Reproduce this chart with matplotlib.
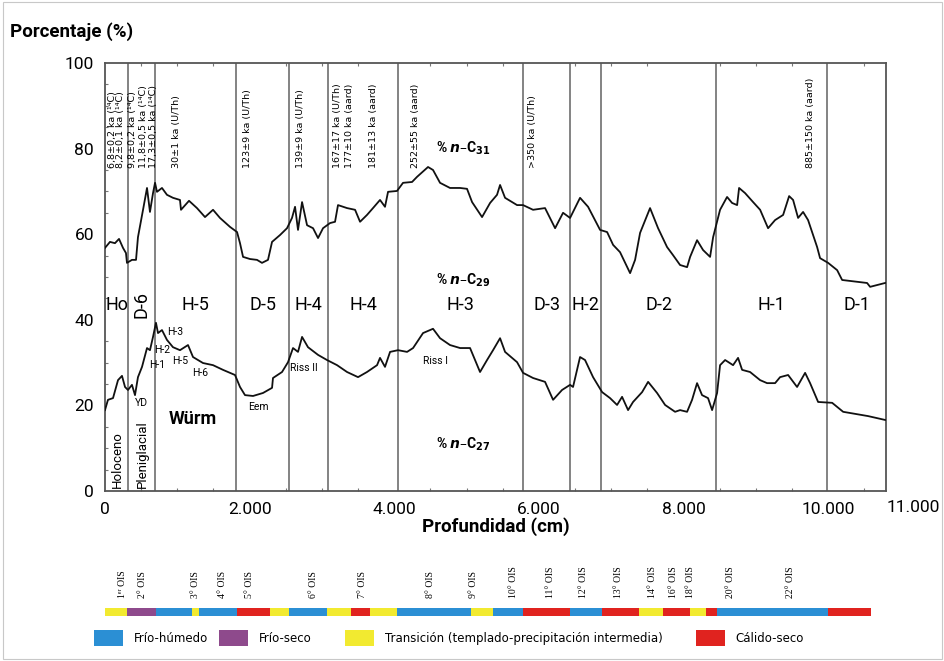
import matplotlib
matplotlib.use("Agg")
import matplotlib.pyplot as plt
from matplotlib.patches import Rectangle
import matplotlib.transforms as mtransforms

plt.rcParams['font.family'] = ['Roboto', 'DejaVu Sans']

# upper curve (% n-C31)
c31_depth = [0, 69, 138, 194, 249, 290, 304, 373, 429, 456, 526, 581, 622, 664, 692, 719,
             788, 857, 940, 1037, 1051, 1162, 1272, 1383, 1494, 1590, 1729, 1826, 1867, 1909,
             2005, 2102, 2171, 2254, 2310, 2420, 2517, 2586, 2628, 2669, 2725, 2794, 2877,
             2946, 3015, 3112, 3181, 3222, 3347, 3458, 3527, 3623, 3706, 3803, 3872, 3914,
             4038, 4121, 4246, 4315, 4467, 4536, 4633, 4771, 4910, 5006, 5076, 5214, 5325,
             5421, 5463, 5532, 5698, 5781, 5919, 6085, 6224, 6334, 6431, 6569, 6680, 6846,
             6943, 7026, 7122, 7261, 7330, 7399, 7537, 7648, 7772, 7855, 7952, 8049, 8091,
             8187, 8270, 8367, 8409, 8505, 8602, 8671, 8741, 8768, 8851, 8962, 9059, 9169,
             9266, 9377, 9460, 9515, 9584, 9653, 9722, 9847, 9888, 9999, 10124, 10193,
             10538, 10580, 10787]
c31_pct = [56.8, 58.2, 57.9, 58.9, 56.8, 55.6, 53.3, 54.0, 54.0, 59.3, 65.7, 70.8, 65.2, 69.6,
           72.0, 69.9, 70.8, 69.2, 68.5, 68.0, 65.7, 67.8, 66.1, 64.0, 65.7, 63.8, 61.7, 60.5,
           57.9, 54.7, 54.2, 54.0, 53.3, 54.0, 58.2, 59.8, 61.4, 63.8, 66.4, 61.0, 67.5, 62.1,
           61.4, 59.1, 61.4, 62.6, 62.9, 66.8, 66.1, 65.7, 62.9, 64.5, 66.1, 68.0, 66.4, 69.9,
           70.1, 72.0, 72.2, 73.4, 75.7, 75.0, 72.0, 70.8, 70.8, 70.6, 67.5, 64.0, 67.3, 69.2,
           71.5, 68.5, 66.8, 66.8, 65.7, 66.1, 61.4, 65.0, 63.8, 68.5, 66.4, 61.0, 60.5, 57.5,
           55.8, 50.9, 54.0, 60.3, 66.1, 61.4, 57.0, 55.1, 52.8, 52.3, 54.7, 58.6, 56.3, 54.7,
           59.3, 65.7, 68.7, 67.3, 66.8, 70.8, 69.6, 67.5, 65.7, 61.4, 63.3, 64.5, 68.9, 68.0,
           63.8, 65.2, 63.3, 57.0, 54.4, 53.3, 51.6, 49.3, 48.6, 47.7, 48.6]

# lower curve (% n-C27)
c27_depth = [0, 41, 111, 180, 235, 277, 318, 373, 415, 456, 512, 581, 622, 664, 705, 733, 788,
             857, 940, 1037, 1148, 1217, 1355, 1494, 1632, 1798, 1867, 1936, 2047, 2185, 2310,
             2323, 2448, 2531, 2600, 2669, 2725, 2807, 2946, 3070, 3209, 3347, 3499, 3623,
             3762, 3803, 3872, 3942, 4052, 4177, 4260, 4398, 4536, 4633, 4771, 4910, 5048,
             5186, 5283, 5366, 5463, 5532, 5698, 5781, 5919, 6085, 6196, 6320, 6431, 6472,
             6569, 6638, 6749, 6874, 6984, 7081, 7150, 7233, 7302, 7427, 7510, 7634, 7745,
             7883, 7952, 8049, 8118, 8187, 8256, 8339, 8395, 8464, 8505, 8575, 8685, 8754,
             8810, 8920, 9059, 9155, 9266, 9335, 9446, 9570, 9681, 9750, 9861, 10055, 10207,
             10552, 10787]
c27_pct = [18.9, 21.3, 21.7, 25.9, 26.9, 24.3, 23.6, 24.8, 22.4, 26.6, 29.0, 33.4, 32.9, 36.0,
           39.3, 36.9, 37.6, 35.3, 33.6, 32.9, 34.1, 31.3, 29.9, 29.4, 28.3, 27.1, 24.3, 22.4,
           22.2, 22.9, 24.1, 26.4, 27.8, 30.1, 33.4, 32.5, 36.0, 33.6, 31.8, 30.6, 29.4, 27.8,
           26.6, 27.8, 29.4, 31.1, 29.0, 32.5, 32.9, 32.5, 33.4, 36.9, 37.9, 35.7, 34.1, 33.4,
           33.4, 27.8, 30.6, 32.9, 35.7, 32.5, 30.1, 27.6, 26.4, 25.5, 21.3, 23.6, 24.8, 24.3,
           31.3, 30.6, 26.6, 23.1, 21.7, 20.1, 22.0, 18.9, 20.8, 23.1, 25.5, 22.9, 20.1, 18.5,
           18.9, 18.5, 21.3, 25.2, 22.4, 21.7, 18.9, 22.9, 29.4, 30.6, 29.4, 31.1, 28.3, 27.8,
           25.9, 25.2, 25.2, 26.6, 27.1, 24.3, 27.6, 25.2, 20.8, 20.6, 18.5, 17.5, 16.6]

# zone boundaries and names
zone_edges = [0, 318, 692, 1812, 2545, 3084, 4052, 5781, 6432, 6860, 8451, 9986, 10800]
zone_names = ['Ho', 'D-6', 'H-5', 'D-5', 'H-4', 'H-4', 'H-3', 'D-3', 'H-2', 'D-2', 'H-1', 'D-1']

# dating labels
date_depth = [110, 220, 387, 526, 664, 982, 1964, 2697, 3215, 3375, 3706, 4287, 5905, 9750]
date_text = ['6,8±0,2 ka (¹⁴C)', '8,2±0,1 ka (¹⁴C)', '9,8±0,2 ka (¹⁴C)', '11,8±0,5 ka (¹⁴C)',
             '17,3±0,5 ka (¹⁴C)', '30±1 ka (U/Th)', '123±9 ka (U/Th)', '139±9 ka (U/Th)',
             '167±17 ka (U/Th)', '177±10 ka (aard)', '181±13 ka (aard)', '252±55 ka (aard)',
             '>350 ka (U/Th)', '885±150 ka (aard)']

# event labels on the lower curve
event_text = ['H-3', 'H-2', 'H-1', 'H-5', 'H-6', 'YD', 'Eem', 'Riss II', 'Riss I']
event_depth = [968, 788, 719, 1037, 1314, 498, 2116, 2752, 4564]
event_pct = [37.2, 33.0, 29.4, 30.4, 27.6, 20.6, 19.6, 28.7, 30.4]

# OIS colour bar
ois_edges = [0, 304, 705, 1203, 1300, 1826, 2282, 2545, 3070, 3402, 3665, 4038, 5062, 5366,
             5781, 6431, 6874, 7385, 7717, 8091, 8312, 8464, 9999, 10594]
ois_class = ['T', 'S', 'H', 'T', 'H', 'C', 'T', 'H', 'T', 'C', 'T', 'H', 'T', 'H', 'C', 'H',
             'C', 'T', 'C', 'T', 'C', 'H', 'C']
ois_labels = ['1ᵉʳ OIS', '2° OIS', '3° OIS', '4° OIS', '5° OIS', '6° OIS', '7° OIS', '8° OIS',
              '9° OIS', '10° OIS', '11° OIS', '12° OIS', '13° OIS', '14° OIS', '16° OIS',
              '18° OIS', '20° OIS', '22° OIS']
ois_label_depth = [249, 512, 1245, 1618, 2005, 2877, 3554, 4495, 5089, 5643, 6154, 6611, 7095,
                   7565, 7855, 8091, 8644, 9474]

legend_keys = ['H', 'S', 'T', 'C']
legend_names = ['Frío-húmedo', 'Frío-seco', 'Transición (templado-precipitación intermedia)',
                'Cálido-seco']
class_colors = {'H': '#2b8fd4', 'S': '#8e4a8c', 'T': '#f2ea30', 'C': '#e0231f'}

x_ticks = [0, 2000, 4000, 6000, 8000, 10000]
x_ticklabels = ['0', '2.000', '4.000', '6.000', '8.000', '10.000']
y_ticks = [0, 20, 40, 60, 80, 100]

fig = plt.figure(figsize=(9.45, 6.61), dpi=100)
fig.patches.append(Rectangle((0.003, 0.003), 0.994, 0.994, transform=fig.transFigure,
                             fill=False, edgecolor='#c8c8c8', lw=0.8))

ax = fig.add_axes([0.1111, 0.2572, 0.8265, 0.6475])
ax.set_xlim(0, 10800)
ax.set_ylim(0, 100)

for e in zone_edges[1:-1]:
    ax.axvline(e, color='#7a7a7a', lw=1.3, zorder=1)

ax.plot(c31_depth, c31_pct, color='#111111', lw=1.3, zorder=3)
ax.plot(c27_depth, c27_pct, color='#111111', lw=1.3, zorder=3)

for i, name in enumerate(zone_names):
    mid = (zone_edges[i] + zone_edges[i + 1]) / 2
    if name == 'D-6':
        ax.text(mid, 43.5, name, rotation=90, ha='center', va='center', fontsize=13)
    else:
        ax.text(mid, 43.5, name, ha='center', va='center', fontsize=13)

for d, t in zip(date_depth, date_text):
    ax.text(d, 75.5, t, rotation=90, ha='center', va='bottom', fontsize=6.8,
            family='DejaVu Sans')

for t, d, p in zip(event_text, event_depth, event_pct):
    ax.text(d, p, t, ha='center', va='center', fontsize=7.5)

ax.text(1217, 16.8, 'Würm', ha='center', va='center', fontsize=13, fontweight='bold')
ax.text(166, 0.8, 'Holoceno', rotation=90, ha='center', va='bottom', fontsize=9.5)
ax.text(520, 0.8, 'Pleniglacial', rotation=90, ha='center', va='bottom', fontsize=9.5)

ax.text(4951, 80.1, r'% $\mathbfit{n}$–C$_{\mathbf{31}}$', ha='center', va='center',
        fontsize=10, fontweight='bold')
ax.text(4951, 49.3, r'% $\mathbfit{n}$–C$_{\mathbf{29}}$', ha='center', va='center',
        fontsize=10, fontweight='bold')
ax.text(4951, 11.0, r'% $\mathbfit{n}$–C$_{\mathbf{27}}$', ha='center', va='center',
        fontsize=10, fontweight='bold')

ax.set_xticks(x_ticks)
ax.set_xticklabels(x_ticklabels)
ax.set_yticks(y_ticks)
ax.set_xticks(range(0, 10800, 500), minor=True)
ax.set_yticks(range(0, 101, 5), minor=True)
ax.tick_params(which='major', length=0, labelsize=12.5, pad=8)
ax.tick_params(which='minor', direction='in', length=2.5, width=0.8, color='#777777',
               top=True)
ax.text(11170, -2, '11.000', ha='center', va='top', fontsize=12.5,
        transform=ax.transData, clip_on=False)
for s in ax.spines.values():
    s.set_color('#555555')
    s.set_linewidth(1.3)

ax.set_xlabel('Profundidad (cm)', fontsize=13.5, fontweight='bold', labelpad=0)
fig.text(0.011, 0.952, 'Porcentaje (%)', fontsize=13.5, fontweight='bold', va='center')

# OIS bar
bax = fig.add_axes([0.1111, 0.0681, 0.8265, 0.0121], sharex=ax)
for i, c in enumerate(ois_class):
    bax.axvspan(ois_edges[i], ois_edges[i + 1], color=class_colors[c], lw=0)
bax.set_ylim(0, 1)
bax.axis('off')
trans = mtransforms.blended_transform_factory(bax.transData, fig.transFigure)
for t, d in zip(ois_labels, ois_label_depth):
    bax.text(d, 0.096, t, rotation=90, ha='center', va='bottom', fontsize=7,
             transform=trans, family=['Liberation Serif', 'DejaVu Serif'])

# legend
leg_x = [0.0995, 0.2317, 0.3651, 0.7365]
for k, name, lx in zip(legend_keys, legend_names, leg_x):
    fig.patches.append(Rectangle((lx, 0.022), 0.031, 0.025, transform=fig.transFigure,
                                 facecolor=class_colors[k], edgecolor='none'))
    fig.text(lx + 0.042, 0.0345, name, fontsize=8.5, va='center',
             family=['Liberation Sans Narrow', 'DejaVu Sans'])

fig.savefig('out.png', dpi=100)
